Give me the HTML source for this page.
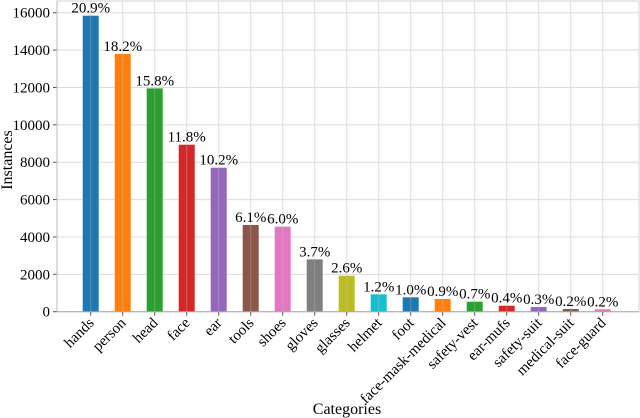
<!DOCTYPE html>
<html><head><meta charset="utf-8"><style>
html,body{margin:0;padding:0;background:#fff;}
svg{display:block;font-family:"Liberation Serif",serif;}
</style></head><body>
<svg id="chart" width="640" height="418" viewBox="0 0 640 418"></svg>
<script>
const categories=["hands","person","head","face","ear","tools","shoes","gloves","glasses","helmet","foot","face-mask-medical","safety-vest","ear-mufs","safety-suit","medical-suit","face-guard"];
const values=[15840,13790,11950,8935,7705,4640,4550,2800,1925,930,770,680,535,320,250,145,130];
const percentLabels=["20.9%","18.2%","15.8%","11.8%","10.2%","6.1%","6.0%","3.7%","2.6%","1.2%","1.0%","0.9%","0.7%","0.4%","0.3%","0.2%","0.2%"];
const colors=["#1f77b4","#ff7f0e","#2ca02c","#d62728","#9467bd","#8c564b","#e377c2","#7f7f7f","#bcbd22","#17becf","#1f77b4","#ff7f0e","#2ca02c","#d62728","#9467bd","#8c564b","#e377c2"];
const yTicks=[0,2000,4000,6000,8000,10000,12000,14000,16000];

const NS="http://www.w3.org/2000/svg";
const svg=document.getElementById('chart');
const L=57,R=639,T=1,B=311.7;
const x=i=>90.7+i*32;
const y=v=>B-v*(299/16000);
function mk(tag,attrs,parent){const e=document.createElementNS(NS,tag);for(const k in attrs)e.setAttribute(k,attrs[k]);(parent||svg).appendChild(e);return e;}

// frame
const frame=mk('rect',{x:L,y:T,width:R-L,height:B-T,fill:'none',stroke:'#d0d0d0','stroke-width':1});



// grid
yTicks.forEach(t=>{
  const g=mk('line',{x1:L,x2:R,y1:y(t),y2:y(t),stroke:'#dcdcdc','stroke-width':1});
  
  
  const tk=mk('line',{x1:L-4,x2:L,y1:y(t),y2:y(t),stroke:'#555','stroke-width':1});
  
  
  const lb=mk('text',{x:L-7,y:y(t)+5,'text-anchor':'end','font-size':15,fill:'#000'});
  lb.textContent=t;
  
  
});
categories.forEach((c,i)=>{
  const g=mk('line',{x1:x(i),x2:x(i),y1:T,y2:B,stroke:'#dcdcdc','stroke-width':1});
  
  
});

// bars
categories.forEach((c,i)=>{
  const b=mk('rect',{x:x(i)-8,y:y(values[i]),width:16,height:B-y(values[i]),fill:colors[i]});
  
  
  const g=mk('line',{x1:x(i),x2:x(i),y1:y(values[i]),y2:B,stroke:'rgba(200,200,200,0.35)','stroke-width':1});
  
  
  const p=mk('text',{x:x(i),y:y(values[i])-3,'text-anchor':'middle','font-size':15,fill:'#000'});
  p.textContent=percentLabels[i];
  
  
  const tk=mk('line',{x1:x(i),x2:x(i),y1:B,y2:B+4,stroke:'#555','stroke-width':1});
  
  
  const lb=mk('text',{x:0,y:0,'text-anchor':'end','font-size':15,fill:'#000',transform:`translate(${x(i)+4},${B+12}) rotate(-45)`});
  lb.textContent=c;
  
  
});

// axes lines
const ax=mk('line',{x1:L,x2:R,y1:B,y2:B,stroke:'#aaa','stroke-width':1});


const ay=mk('line',{x1:L,x2:L,y1:T,y2:B,stroke:'#bbb','stroke-width':1});



const xt=mk('text',{x:347,y:414,'text-anchor':'middle','font-size':16,fill:'#000'});
xt.textContent='Categories';


const yt=mk('text',{x:0,y:0,'text-anchor':'middle','font-size':16,fill:'#000',transform:'translate(12,160) rotate(-90)'});
yt.textContent='Instances';


</script>
</body></html>
